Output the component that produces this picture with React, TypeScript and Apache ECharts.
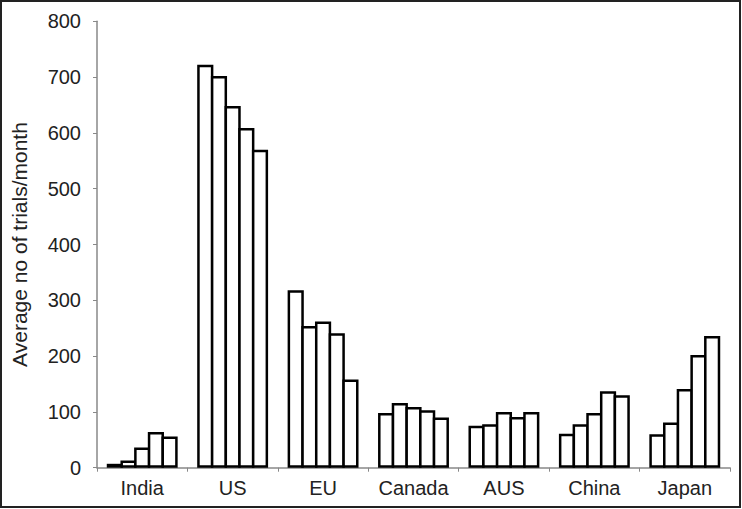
import React, { useEffect, useRef } from "react";
import * as echarts from "echarts";

const categories = ["India", "US", "EU", "Canada", "AUS", "China", "Japan"];
const series1 = [7, 722, 318, 98, 75, 61, 60];
const series2 = [13, 702, 254, 116, 78, 78, 81];
const series3 = [36, 648, 262, 109, 100, 98, 141];
const series4 = [64, 609, 241, 103, 91, 137, 202];
const series5 = [56, 570, 158, 90, 100, 130, 236];
const seriesNames = ["Series 1", "Series 2", "Series 3", "Series 4", "Series 5"];
const yTicks = { min: 0, max: 800, interval: 100 };
const yTitle = "Average no of trials/month";

export default function App() {
  const ref = useRef<HTMLDivElement>(null);
  useEffect(() => {
    const chart = echarts.init(ref.current!, null, { renderer: "svg" });
    const all = [series1, series2, series3, series4, series5];
    const textColor = "#222";
    const font = "Liberation Sans, Arial, sans-serif";
    chart.setOption({
      animation: false,
      backgroundColor: "#ffffff",
      grid: { left: 97, right: 12, top: 21.3, bottom: 41.3, containLabel: false },
      xAxis: {
        type: "category",
        data: categories,
        boundaryGap: true,
        axisLine: { show: true, lineStyle: { color: "#888", width: 1.5 } },
        axisTick: { show: true, length: 4, interval: 0, lineStyle: { color: "#888", width: 1 } },
        axisLabel: {
          color: textColor,
          fontFamily: font,
          fontSize: 20,
          margin: 10,
          interval: 0,
          hideOverlap: false,
        },
        splitLine: { show: false },
      },
      yAxis: {
        type: "value",
        min: yTicks.min,
        max: yTicks.max,
        interval: yTicks.interval,
        name: yTitle,
        nameLocation: "middle",
        nameGap: 67,
        nameRotate: 90,
        nameTextStyle: {
          color: textColor,
          fontFamily: font,
          fontSize: 21,
        },
        axisLine: { show: true, lineStyle: { color: "#888", width: 1.5 } },
        axisTick: { show: true, length: 4, lineStyle: { color: "#888", width: 1 } },
        axisLabel: {
          color: textColor,
          fontFamily: font,
          fontSize: 20,
          margin: 16,
        },
        splitLine: { show: false },
      },
      series: all.map((d, i) => ({
        name: seriesNames[i],
        type: "bar",
        data: d,
        barGap: "-15.4%",
        barCategoryGap: "21.6%",
        itemStyle: { color: "#ffffff", borderColor: "#000", borderWidth: 2.5 },
      })),
      graphic: [
        {
          type: "rect",
          shape: { x: 1, y: 1, width: 739, height: 506 },
          style: { fill: "none", stroke: "#222", lineWidth: 2 },
          silent: true,
          z: 100,
        },
      ],
    });
    return () => chart.dispose();
  }, []);
  return (
    <div
      ref={ref}
      style={{ position: "absolute", left: 0, top: 0, width: 742, height: 509 }}
    />
  );
}
